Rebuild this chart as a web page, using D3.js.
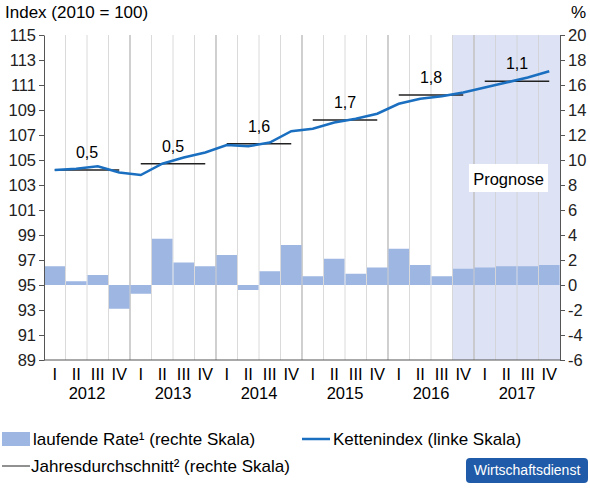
<!DOCTYPE html><html><head><meta charset="utf-8">
<script src="https://cdn.jsdelivr.net/npm/d3@7"></script>
<style>body{margin:0;background:#fff}text{font-family:"Liberation Sans",Arial,sans-serif}</style></head><body>
<svg id="c" width="590" height="488"></svg>
<script>
const years=["2012","2013","2014","2015","2016","2017"];
const quarters=["I","II","III","IV"];
const rate=[1.5,0.3,0.8,-1.9,-0.7,3.7,1.8,1.5,2.4,-0.4,1.1,3.2,0.7,2.1,0.9,1.4,2.9,1.6,0.7,1.3,1.4,1.5,1.5,1.6];
const index=[104.2,104.3,104.5,104.0,103.8,104.7,105.2,105.6,106.2,106.1,106.4,107.3,107.5,108.0,108.3,108.7,109.5,109.9,110.1,110.4,110.8,111.2,111.6,112.1];
const annualAvg=[104.2,104.7,106.3,108.2,110.2,111.3];
const annualLabels=["0,5","0,5","1,6","1,7","1,8","1,1"];
const leftTicks=d3.range(89,116,2), rightTicks=d3.range(-6,21,2);

const svg=d3.select("#c");
const L=44,R=560,T=35,B=360;
const x=d3.scaleBand().domain(d3.range(24)).range([L,R]).padding(0);
const yL=d3.scaleLinear().domain([89,115]).range([B,T]);
const yR=d3.scaleLinear().domain([-6,20]).range([B,T]);
const cx=i=>x(i)+x.bandwidth()/2;
const FS=16.5;

svg.append("rect").attr("x",x(19)).attr("y",T).attr("width",R-x(19)).attr("height",B-T).attr("fill","#dde3f4");
for(let i=1;i<24;i++){svg.append("line").attr("x1",x(i)).attr("x2",x(i)).attr("y1",T).attr("y2",B)
 .attr("stroke",i%4==0?"#c4c4c4":"#d0d0d0").attr("stroke-width",i%4==0?1.6:0.8);}
svg.selectAll(".bar").data(rate).join("rect").attr("x",(d,i)=>x(i)+0.5).attr("width",x.bandwidth()-1)
 .attr("y",d=>yR(Math.max(0,d))).attr("height",d=>Math.abs(yR(d)-yR(0))).attr("fill","#9db6e2");
svg.append("rect").attr("x",469).attr("y",164).attr("width",79).attr("height",28).attr("fill","#fff");
svg.append("text").attr("x",508.5).attr("y",185).attr("text-anchor","middle").attr("font-size",16.5).text("Prognose");
annualAvg.forEach((v,k)=>{
 svg.append("line").attr("x1",cx(4*k)).attr("x2",cx(4*k+3)).attr("y1",yL(v)).attr("y2",yL(v)).attr("stroke","#222").attr("stroke-width",1.5);
 svg.append("text").attr("x",x(4*k+2)).attr("y",yL(v)-12).attr("text-anchor","middle").attr("font-size",16).text(annualLabels[k]);
});
svg.append("path").datum(index).attr("fill","none").attr("stroke","#1a6fc0").attr("stroke-width",2.5)
 .attr("d",d3.line().x((d,i)=>cx(i)).y(d=>yL(d)));
svg.append("g").attr("transform",`translate(${L},0)`).call(d3.axisLeft(yL).tickValues(leftTicks).tickFormat(d=>String(d)).tickSize(5).tickSizeOuter(0))
 .call(g=>{g.selectAll("text").attr("font-size",FS).attr("fill","#222");g.selectAll("line,path").attr("stroke","#555");});
svg.append("g").attr("transform",`translate(${R},0)`).call(d3.axisRight(yR).tickValues(rightTicks).tickFormat(d=>String(d)).tickSize(5).tickSizeOuter(0))
 .call(g=>{g.selectAll("text").attr("font-size",FS).attr("fill","#222");g.selectAll("line,path").attr("stroke","#555");});
svg.append("line").attr("x1",L).attr("x2",R).attr("y1",B).attr("y2",B).attr("stroke","#555").attr("stroke-width",1.2);
d3.range(24).forEach(i=>svg.append("text").attr("x",cx(i)).attr("y",380).attr("text-anchor","middle").attr("font-size",FS).text(quarters[i%4]));
years.forEach((y,k)=>svg.append("text").attr("x",x(4*k+2)).attr("y",399).attr("text-anchor","middle").attr("font-size",FS).text(y));
svg.append("text").attr("x",5).attr("y",18).attr("font-size",17).text("Index (2010 = 100)");
svg.append("text").attr("x",586).attr("y",18).attr("text-anchor","end").attr("font-size",17).text("%");
svg.append("rect").attr("x",2).attr("y",432).attr("width",28).attr("height",14).attr("fill","#9db6e2");
svg.append("text").attr("x",33).attr("y",445).attr("font-size",17).text("laufende Rate¹ (rechte Skala)");
svg.append("line").attr("x1",302).attr("x2",330).attr("y1",439).attr("y2",439).attr("stroke","#1a6fc0").attr("stroke-width",2.5);
svg.append("text").attr("x",333).attr("y",445).attr("font-size",17).text("Kettenindex (linke Skala)");
svg.append("line").attr("x1",2).attr("x2",30).attr("y1",466).attr("y2",466).attr("stroke","#222").attr("stroke-width",1);
svg.append("text").attr("x",31).attr("y",472).attr("font-size",17).text("Jahresdurchschnitt² (rechte Skala)");
svg.append("rect").attr("x",466).attr("y",458).attr("width",122).attr("height",25).attr("rx",4).attr("fill","#1f5ba8");
svg.append("text").attr("x",527).attr("y",475).attr("text-anchor","middle").attr("font-size",14).attr("fill","#fff").attr("font-family","Liberation Serif,serif").text("Wirtschaftsdienst");
</script></body></html>
